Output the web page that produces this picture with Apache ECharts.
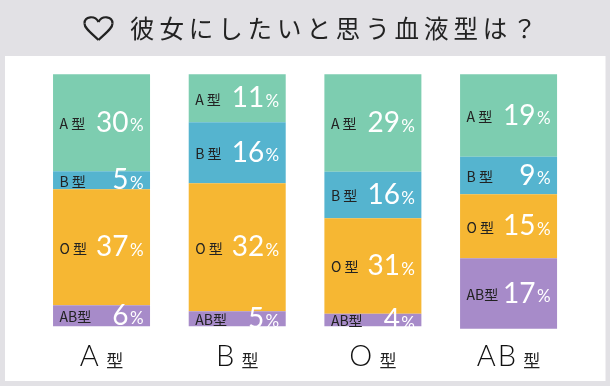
<!DOCTYPE html>
<html><head><meta charset="utf-8">
<style>html,body{margin:0;padding:0;background:#e2e1e5}#c{width:610px;height:386px}</style>
<script src="https://cdn.jsdelivr.net/npm/echarts@6/dist/echarts.min.js"></script>
</head><body><div id="c"></div>
<script>
const chartTitle = '彼女にしたいと思う血液型は？';
const categories = ['A', 'B', 'O', 'AB'];
const seriesNames = ['A', 'B', 'O', 'AB'];
// printed percentages, by answer type, one entry per respondent blood type
const printedA = [30, 11, 29, 19];
const printedB = [5, 16, 16, 9];
const printedO = [37, 32, 31, 15];
const printedAB = [6, 5, 4, 17];
// segment lengths
const lengthA = [97, 48, 97.5, 82.5];
const lengthB = [18, 61, 46.5, 37.5];
const lengthO = [116, 128, 95.5, 64];
const lengthAB = [21, 15, 12.5, 70.5];
const colors = ['#7dcdb0', '#55b4cf', '#f6b733', '#a78bc9'];

const printed = [printedA, printedB, printedO, printedAB];
const lengths = [lengthA, lengthB, lengthO, lengthAB];
const jp = '"Noto Sans CJK JP"';
const num = 'Lato';
const heartStroke = {fill: 'none', stroke: '#222', lineWidth: 2.2};

const chart = echarts.init(document.getElementById('c'), null, {renderer: 'canvas'});
chart.setOption({
  animation: false,
  backgroundColor: '#e2e1e5',
  title: {
    text: chartTitle.split('').join('\u2009'),
    left: 125, top: 11,
    textStyle: {fontFamily: jp, fontSize: 24.5, fontWeight: 400, color: '#222'}
  },
  graphic: [
    {type: 'rect', z: -10, shape: {x: 5, y: 56, width: 600.5, height: 325}, style: {fill: '#ffffff'}},
    {type: 'bezierCurve', z: 10, style: heartStroke, shape: {x1: 98.5, y1: 40, cpx1: 90, cpy1: 32, cpx2: 84.5, cpy2: 28, x2: 84.5, y2: 23.5}},
    {type: 'bezierCurve', z: 10, style: heartStroke, shape: {x1: 84.5, y1: 23.5, cpx1: 84.5, cpy1: 16, cpx2: 95, cpy2: 15, x2: 98.5, y2: 22}},
    {type: 'bezierCurve', z: 10, style: heartStroke, shape: {x1: 98.5, y1: 22, cpx1: 102, cpy1: 15, cpx2: 112.5, cpy2: 16, x2: 112.5, y2: 23.5}},
    {type: 'bezierCurve', z: 10, style: heartStroke, shape: {x1: 112.5, y1: 23.5, cpx1: 112.5, cpy1: 28, cpx2: 107, cpy2: 32, x2: 98.5, y2: 40}}
  ],
  grid: {left: 33.7, width: 542.7, top: 74.3, height: 255},
  xAxis: {
    type: 'category', data: categories,
    axisLine: {show: false}, axisTick: {show: false},
    axisLabel: {
      margin: 13,
      formatter: v => `{big|${v.split('').join('\u200a')}} {small|型}`,
      rich: {
        big: {fontFamily: num, fontSize: 29, fontWeight: 300, color: '#111'},
        small: {fontFamily: jp, fontSize: 17, color: '#222', padding: [7, 0, 0, 4]}
      }
    }
  },
  yAxis: {type: 'value', inverse: true, min: 0, max: 255, show: false, splitLine: {show: false}},
  series: seriesNames.map((name, s) => ({
    name, type: 'bar', stack: 'all', barWidth: 97,
    data: lengths[s],
    itemStyle: {color: colors[s]},
    label: {
      show: true, position: 'inside',
      formatter: p => `{name|${name === 'AB' ? 'AB' : name + ' '}型}{num|${printed[s][p.dataIndex]}}{pct|%}`,
      rich: {
        name: {fontFamily: jp, fontSize: 14, color: '#222', width: 38, align: 'left', padding: [2, 0, 0, 0]},
        num: {fontFamily: num, fontSize: 28, fontWeight: 400, color: '#fff', width: 31, align: 'right'},
        pct: {fontFamily: num, fontSize: 17, fontWeight: 400, color: '#fff', width: 15, align: 'right', padding: [6, 0, 0, 0]}
      }
    }
  }))
});
</script></body></html>
